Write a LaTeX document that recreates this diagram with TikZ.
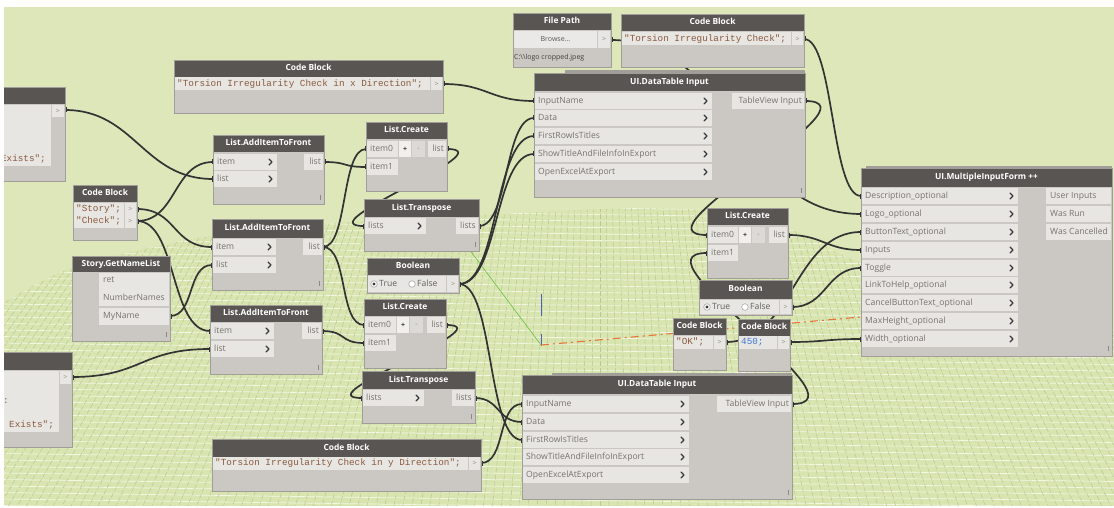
\documentclass[tikz,border=0pt]{standalone}
\usepackage{fontspec}
\setmainfont{Open Sans}
\newfontfamily\monofam{Liberation Mono}

\definecolor{canvas}{HTML}{DDE7B9}
\definecolor{ground}{HTML}{D8E5B0}
\definecolor{gridlight}{HTML}{F2F6E2}
\definecolor{griddark}{HTML}{B9C98F}
\definecolor{headgray}{HTML}{595552}
\definecolor{bodygray}{HTML}{CBC7C2}
\definecolor{cellgray}{HTML}{E8E6E2}
\definecolor{btnlight}{HTML}{F1F0ED}
\definecolor{btndark}{HTML}{DCDAD6}
\definecolor{edgegray}{HTML}{A19E99}
\definecolor{porttext}{HTML}{77736F}
\definecolor{gtgray}{HTML}{8C8985}
\definecolor{gripgray}{HTML}{8C8985}
\definecolor{codebrown}{HTML}{8A5A3E}
\definecolor{codeblue}{HTML}{3C78D8}
\definecolor{wirecol}{HTML}{333333}
\definecolor{chevcol}{HTML}{3A3836}
\definecolor{axisred}{HTML}{E8743B}
\definecolor{axisgreen}{HTML}{6DBE45}
\definecolor{axisblue}{HTML}{4A5FC1}

\newcommand{\dynHead}{\fontsize{8.4}{9}\selectfont\bfseries}
\newcommand{\dynPort}{\fontsize{8.6}{9}\selectfont}
\newcommand{\dynCode}{\monofam\fontsize{9.3}{10}\selectfont}
\newcommand{\dynSmall}{\fontsize{7}{8}\selectfont}

\tikzset{
  nedge/.style={draw=edgegray,line width=0.7pt},
  htext/.style={text=white,font=\dynHead,inner sep=0pt,text height=6.3pt,text depth=1.7pt},
  ptext/.style={text=porttext,font=\dynPort,inner sep=0pt,text height=6.3pt,text depth=1.9pt},
  ctext/.style={font=\dynCode,inner sep=0pt,text height=6.5pt,text depth=2pt},
  gtext/.style={text=gtgray,font=\dynSmall,inner sep=0pt},
  chev/.style={draw=chevcol,line width=1.3pt,line cap=round,line join=round},
  wire/.style={draw=wirecol,line width=1.7pt},
  grip/.style={draw=gripgray,line width=0.6pt},
  gridA/.style={draw=gridlight,line width=0.7pt},
  gridB/.style={draw=griddark,line width=0.5pt,dash pattern=on 5pt off 2pt},
}

\pgfdeclarelayer{ground}
\pgfdeclarelayer{links}
\pgfsetlayers{ground,links,main}

% node frame: name, left, top, right, header bottom, bottom, title
\newcommand{\nodebox}[7]{%
  \fill[bodygray] (#2,#3) rectangle (#4,#6);
  \fill[headgray] (#2,#3) rectangle (#4,#5);
  \draw[nedge] (#2,#3) rectangle (#4,#6);
  \node[htext] (#1) at ({(#2+#4)/2},{(#3+#5)/2}) {#7};
}
% input port with chevron: coordinate, node left edge, cell right, y, label
\newcommand{\inport}[5]{%
  \fill[cellgray] (#2+1,#4-8) rectangle (#3,#4+8);
  \node[ptext,anchor=west] at (#2+4,#4) {#5};
  \draw[chev] (#3-8,#4-3) -- (#3-5,#4) -- (#3-8,#4+3);
  \coordinate (#1) at (#2,#4);
}
% input port without chevron
\newcommand{\inportplain}[5]{%
  \fill[cellgray] (#2+1,#4-8) rectangle (#3,#4+8);
  \node[ptext,anchor=west] at (#2+4,#4) {#5};
  \coordinate (#1) at (#2,#4);
}
% output port, label flush right: coordinate, cell left, node right edge, y, label
\newcommand{\outport}[5]{%
  \fill[cellgray] (#2,#4-8) rectangle (#3-1,#4+8);
  \node[ptext,anchor=east] at (#3-3,#4) {#5};
  \coordinate (#1) at (#3,#4);
}
% output port, label flush left
\newcommand{\outportL}[5]{%
  \fill[cellgray] (#2,#4-8) rectangle (#3-1,#4+8);
  \node[ptext,anchor=west] at (#2+4,#4) {#5};
  \coordinate (#1) at (#3,#4);
}
% code block line: coordinate, node left, node right, y, code, colour
\newcommand{\codeline}[6]{%
  \fill[cellgray] (#2+1,#4-6.5) rectangle (#3-13,#4+6.5);
  \fill[cellgray] (#3-12,#4-6.5) rectangle (#3-1,#4+6.5);
  \node[ctext,text=#6,anchor=west] at (#2+3,#4) {#5};
  \node[gtext] at (#3-6.5,#4) {>};
  \coordinate (#1) at (#3,#4);
}
% list.create add/remove buttons: left, top, bottom
\newcommand{\lcbuttons}[3]{%
  \fill[btnlight] (#1,#2) rectangle (#1+12,#3);
  \node[text=chevcol,font=\dynSmall\bfseries,inner sep=0pt] at (#1+6,{(#2+#3)/2}) {+};
  \fill[btndark] (#1+13,#2) rectangle (#1+26,#3);
  \node[gtext] at (#1+19.5,{(#2+#3)/2}) {-};
}
% radio button: x, y, selected
\newcommand{\radio}[3]{%
  \fill[white] (#1,#2) circle[radius=3.3pt];
  \draw[edgegray,line width=0.5pt] (#1,#2) circle[radius=3.3pt];
  \ifnum#3=1 \fill[chevcol] (#1,#2) circle[radius=1.7pt];\fi
}
% resize grip
\newcommand{\grip}[2]{\draw[grip] (#1,#2-5) -- (#1,#2);}
% connector between two ports, with the small plugs at both ends
\newcommand{\wire}[3]{%
  \draw[wire] (#1) .. controls +(#3,0) and +(-#3,0) .. (#2);
  \fill[wirecol] (#1) ++(-1,-2.5) rectangle ++(2.5,5);
  \fill[wirecol] (#2) ++(-1.5,-2.5) rectangle ++(2.5,5);
}

\begin{document}
\begin{tikzpicture}[x=1pt,y=-1pt]
\useasboundingbox (0,0) rectangle (1114,508);

\begin{scope}
\clip (4,7) rectangle (1114,505);

% ---- partial code block, upper left
\nodebox{cbA}{-200}{87}{65}{104}{181}{}
\fill[cellgray] (-200,105) rectangle (51,166);
\fill[cellgray] (52,105) rectangle (64,117);
\node[gtext] at (58,111) {>};
\node[ctext,text=codebrown,anchor=east] at (46,159) {Exists";};
\coordinate (cbA-out) at (65,110);

% ---- partial code block, lower left
\nodebox{cbB}{-200}{352}{72}{370}{447}{}
\fill[cellgray] (-200,371) rectangle (59,432);
\fill[cellgray] (60,371) rectangle (71,384);
\node[gtext] at (65.5,377) {>};
\node[ctext,text=codebrown,anchor=west] at (3,401) {:};
\node[ctext,text=codebrown,anchor=west] at (9,425) {Exists";};
\coordinate (cbB-out) at (72,377);

% ---- code block "Story" / "Check"
\nodebox{cbsc}{73}{185}{137}{202}{240}{Code Block}
\codeline{cbsc-story}{73}{137}{209}{"Story";}{codebrown}
\codeline{cbsc-check}{73}{137}{221}{"Check";}{codebrown}

% ---- Story.GetNameList
\nodebox{gnl}{72}{256}{170}{272}{341}{Story.GetNameList}
\fill[cellgray] (99,273) rectangle (169,306);
\fill[cellgray] (99,308) rectangle (169,325);
\node[ptext,anchor=west] at (103,280) {ret};
\node[ptext,anchor=west] at (103,298) {NumberNames};
\node[ptext,anchor=west] at (103,316) {MyName};
\coordinate (gnl-myname) at (170,316);
\grip{166}{337}

% ---- code block, x direction
\nodebox{cbx}{174}{60}{443}{77}{113}{Code Block}
\codeline{cbx-out}{174}{443}{84}{"Torsion Irregularity Check in x Direction";}{codebrown}

% ---- List.AddItemToFront (three)
\nodebox{aifA}{213}{135}{324}{152}{204}{List.AddItemToFront}
\inport{aifA-item}{213}{277}{162}{item}
\inport{aifA-list}{213}{277}{179}{list}
\outport{aifA-out}{304}{324}{162}{list}
\grip{320}{200}

\nodebox{aifB}{212}{219}{323}{238}{290}{List.AddItemToFront}
\inport{aifB-item}{212}{276}{247}{item}
\inport{aifB-list}{212}{276}{265}{list}
\outport{aifB-out}{303}{323}{247}{list}
\grip{319}{286}

\nodebox{aifC}{210}{305}{322}{322}{374}{List.AddItemToFront}
\inport{aifC-item}{210}{274}{331}{item}
\inport{aifC-list}{210}{274}{349}{list}
\outport{aifC-out}{302}{322}{331}{list}
\grip{318}{370}

% ---- List.Create / List.Transpose pairs
\nodebox{lcA}{366}{122}{447}{139}{191}{List.Create}
\inportplain{lcA-i0}{366}{398}{149}{item0}
\inportplain{lcA-i1}{366}{398}{167}{item1}
\lcbuttons{399}{141}{157}
\outport{lcA-out}{428}{447}{149}{list}

\nodebox{trA}{364}{199}{479}{217}{251}{List.Transpose}
\inport{trA-in}{364}{426}{226}{lists}
\outport{trA-out}{456}{479}{226}{lists}
\grip{475}{247}

\nodebox{boolA}{367}{258}{459}{275}{293}{Boolean}
\fill[cellgray] (368,276) rectangle (446,292);
\radio{374}{284}{1}
\node[ptext,text=chevcol!80,anchor=west] at (379,284) {True};
\radio{412}{284}{0}
\node[ptext,text=chevcol!80,anchor=west] at (417,284) {False};
\fill[cellgray] (447,276) rectangle (458,292);
\node[gtext] at (453,284) {>};
\coordinate (boolA-out) at (459,284);

\nodebox{lcB}{364}{299}{446}{316}{368}{List.Create}
\inportplain{lcB-i0}{364}{396}{325}{item0}
\inportplain{lcB-i1}{364}{396}{343}{item1}
\lcbuttons{397}{317}{333}
\outport{lcB-out}{427}{446}{325}{list}

\nodebox{trB}{362}{371}{475}{389}{423}{List.Transpose}
\inport{trB-in}{362}{424}{398}{lists}
\outport{trB-out}{452}{475}{398}{lists}
\grip{471}{419}

% ---- code block, y direction
\nodebox{cby}{212}{439}{481}{457}{491}{Code Block}
\codeline{cby-out}{212}{481}{463}{"Torsion Irregularity Check in y Direction";}{codebrown}

% ---- File Path
\nodebox{fpath}{513}{13}{611}{30}{67}{File Path}
\fill[btndark!60!white] (514,31) rectangle (597,48);
\node[text=chevcol!85,font=\dynSmall,inner sep=0pt] at (555.5,39.5) {Browse...};
\fill[cellgray] (598,31) rectangle (610,48);
\node[gtext] at (604,39.5) {>};
\node[text=black!75,font=\dynSmall,inner sep=0pt,anchor=west] at (514,58) {C:\textbackslash\textbackslash logo cropped.jpeg};
\coordinate (fpath-out) at (611,40);

% ---- code block, title
\nodebox{cbt}{621}{14}{804}{31}{67}{Code Block}
\codeline{cbt-out}{621}{804}{39}{"Torsion Irregularity Check";}{codebrown}

% ---- UI.DataTable Input, upper
\fill[edgegray] (565,70) rectangle (805,73);
\nodebox{dtA}{534}{73}{805}{91}{197}{UI.DataTable Input}
\inport{dtA-name}{534}{712}{101}{InputName}
\inport{dtA-data}{534}{712}{118}{Data}
\inport{dtA-first}{534}{712}{136}{FirstRowIsTitles}
\inport{dtA-show}{534}{712}{154}{ShowTitleAndFileInfoInExport}
\inport{dtA-excel}{534}{712}{172}{OpenExcelAtExport}
\outport{dtA-tv}{732}{805}{101}{TableView Input}
\grip{801}{193}

% ---- UI.DataTable Input, lower
\fill[edgegray] (552,373) rectangle (792,375);
\nodebox{dtB}{522}{375}{792}{394}{499}{UI.DataTable Input}
\inport{dtB-name}{522}{689}{404}{InputName}
\inport{dtB-data}{522}{689}{422}{Data}
\inport{dtB-first}{522}{689}{440}{FirstRowIsTitles}
\inport{dtB-show}{522}{689}{457}{ShowTitleAndFileInfoInExport}
\inport{dtB-excel}{522}{689}{475}{OpenExcelAtExport}
\outport{dtB-tv}{717}{792}{404}{TableView Input}
\grip{788}{495}

% ---- List.Create feeding the form
\nodebox{lcC}{707}{208}{788}{225}{278}{List.Create}
\inportplain{lcC-i0}{707}{738}{235}{item0}
\inportplain{lcC-i1}{707}{738}{253}{item1}
\lcbuttons{739}{227}{243}
\outport{lcC-out}{769}{788}{235}{list}

% ---- Boolean, toggle
\nodebox{boolB}{699}{280}{792}{299}{315}{Boolean}
\fill[cellgray] (700,300) rectangle (779,314);
\radio{707}{307}{1}
\node[ptext,text=chevcol!80,anchor=west] at (712,307) {True};
\radio{745}{307}{0}
\node[ptext,text=chevcol!80,anchor=west] at (750,307) {False};
\fill[cellgray] (780,300) rectangle (791,314);
\node[gtext] at (785.5,307) {>};
\coordinate (boolB-out) at (792,307);

% ---- code blocks "OK" and 450
\nodebox{cbok}{673}{318}{726}{335}{370}{Code Block}
\codeline{cbok-out}{673}{726}{342}{"OK";}{codebrown}
\nodebox{cbw}{738}{319}{790}{336}{371}{Code Block}
\codeline{cbw-out}{738}{790}{342}{450;}{codeblue}

% ---- UI.MultipleInputForm ++
\fill[edgegray] (866,166) rectangle (1112,168);
\nodebox{mif}{861}{168}{1112}{187}{356}{UI.MultipleInputForm ++}
\inport{mif-desc}{861}{1018}{196}{Description\_optional}
\inport{mif-logo}{861}{1018}{214}{Logo\_optional}
\inport{mif-button}{861}{1018}{232}{ButtonText\_optional}
\inport{mif-inputs}{861}{1018}{250}{Inputs}
\inport{mif-toggle}{861}{1018}{268}{Toggle}
\inport{mif-help}{861}{1018}{285}{LinkToHelp\_optional}
\inport{mif-cancel}{861}{1018}{303}{CancelButtonText\_optional}
\inport{mif-height}{861}{1018}{321}{MaxHeight\_optional}
\inport{mif-width}{861}{1018}{339}{Width\_optional}
\outportL{mif-user}{1046}{1112}{196}{User Inputs}
\outportL{mif-run}{1046}{1112}{214}{Was Run}
\outportL{mif-cancelled}{1046}{1112}{232}{Was Cancelled}
\grip{1108}{351}
\end{scope}

% ---- background canvas and ground grid
\begin{pgfonlayer}{ground}
\fill[white] (0,0) rectangle (1114,508);
\begin{scope}
\clip (4,7) rectangle (1114,505);
\fill[canvas] (4,7) rectangle (1114,505);
\fill[ground] plot[smooth] coordinates {(0,305) (72,268) (200,238) (350,222) (500,214) (650,208) (750,215) (810,238) (860,262) (1000,300) (1114,335)} -- (1114,510) -- (0,510) -- cycle;
\clip plot[smooth] coordinates {(0,305) (72,268) (200,238) (350,222) (500,214) (650,208) (750,215) (810,238) (860,262) (1000,300) (1114,335)} -- (1114,510) -- (0,510) -- cycle;
\foreach \k in {0,...,50} \draw[gridA] (0,{200+\k*6.5}) -- (1114,{215+\k*6.5});
\foreach \i in {-95,...,95} \draw[gridB] (600,-500) -- ({600+\i*9},510);
\end{scope}
\draw[axisgreen,line width=0.6pt] (466,245) -- (541,345);
\draw[axisblue,line width=0.8pt] (541,294) -- (541,316);
\draw[axisblue,line width=0.8pt] (541,334) -- (541,346);
\draw[axisred,line width=1.1pt,dash pattern=on 8pt off 4pt on 2pt off 4pt] (541,345) -- (861,317);
\end{pgfonlayer}

% ---- connectors
\begin{pgfonlayer}{links}
\wire{cbA-out}{aifA-list}{70}
\wire{cbsc-story}{aifB-item}{40}
\wire{cbsc-check}{aifA-item}{40}
\wire{cbsc-check}{aifC-item}{40}
\wire{gnl-myname}{aifB-list}{25}
\wire{cbB-out}{aifC-list}{70}
\wire{aifA-out}{lcA-i1}{25}
\wire{aifB-out}{lcA-i0}{25}
\wire{aifB-out}{lcB-i0}{25}
\wire{aifC-out}{lcB-i1}{25}
\wire{lcA-out}{trA-in}{60}
\wire{lcB-out}{trB-in}{60}
\wire{cbx-out}{dtA-name}{45}
\wire{trA-out}{dtA-data}{30}
\wire{boolA-out}{dtA-first}{40}
\wire{boolA-out}{dtA-show}{40}
\wire{boolA-out}{dtB-first}{35}
\wire{trB-out}{dtB-data}{25}
\wire{cby-out}{dtB-name}{25}
\wire{fpath-out}{mif-logo}{125}
\wire{cbt-out}{mif-desc}{30}
\wire{dtA-tv}{lcC-i0}{80}
\wire{dtB-tv}{lcC-i1}{80}
\wire{lcC-out}{mif-inputs}{35}
\wire{boolB-out}{mif-toggle}{35}
\wire{cbok-out}{mif-button}{67}
\wire{cbw-out}{mif-width}{35}
\end{pgfonlayer}
\end{tikzpicture}
\end{document}
